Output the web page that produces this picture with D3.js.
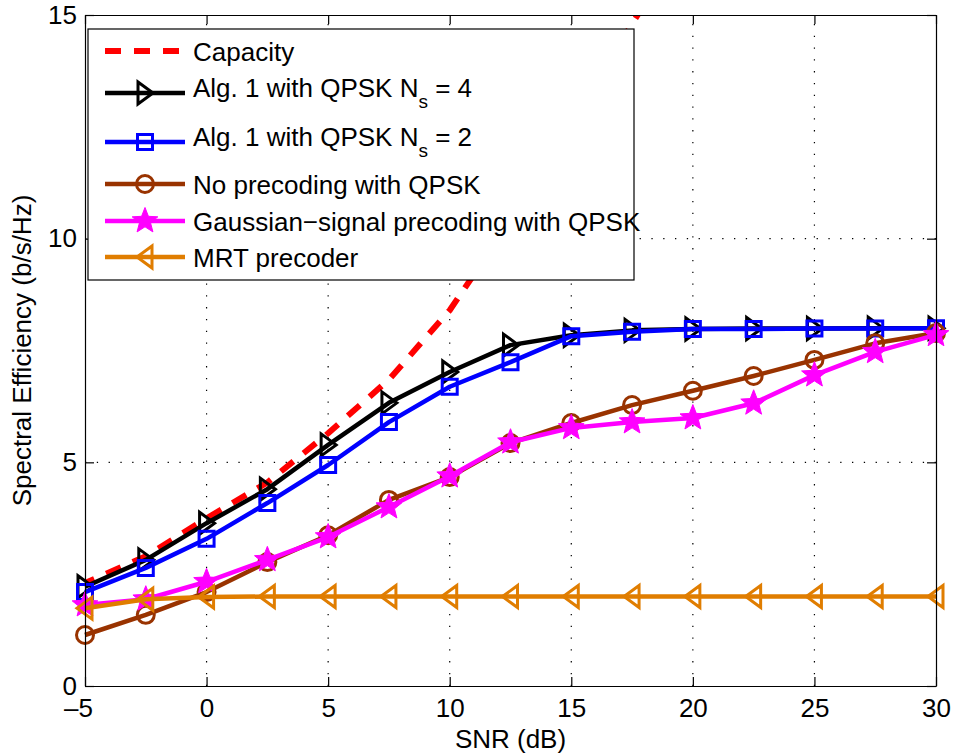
<!DOCTYPE html>
<html lang="en">
<head>
    <meta charset="UTF-8">
    <title>Spectral Efficiency vs SNR</title>
    <script src="https://d3js.org/d3.v7.min.js"></script>
    <style>
        body { margin: 0; background: #fff; }
        svg { display: block; }
        text { font-family: "Liberation Sans", Arial, Helvetica, sans-serif; fill: #000; }
        .axis path, .axis line { stroke: #000; stroke-width: 1.2; }
        .axis text { font-size: 26px; }
        .grid line { stroke: #000; stroke-width: 1.2; stroke-dasharray: 1.3 10.5; }
        .axis-label { font-size: 26px; }
        .legend text { font-size: 26px; }
    </style>
</head>
<body>
    <svg width="953" height="755"></svg>
    <script>
        // data
        const snr = [-5, -2.5, 0, 2.5, 5, 7.5, 10, 12.5, 15, 17.5, 20, 22.5, 25, 27.5, 30];
        const capacity = [2.3, 2.9, 3.75, 4.55, 5.65, 6.85, 8.4, 10.4, 12.6, 14.8, 17.0];
        const alg1Ns4 = [2.22, 2.82, 3.64, 4.40, 5.39, 6.33, 7.02, 7.62, 7.84, 7.95, 7.98, 7.99, 7.99, 8.0, 8.0];
        const alg1Ns2 = [2.10, 2.64, 3.29, 4.09, 4.94, 5.90, 6.69, 7.24, 7.82, 7.92, 7.98, 7.98, 7.99, 7.99, 8.0];
        const noPrecoding = [1.14, 1.59, 2.10, 2.77, 3.37, 4.16, 4.67, 5.43, 5.88, 6.28, 6.60, 6.93, 7.29, 7.66, 7.89];
        const gaussian = [1.81, 1.94, 2.33, 2.82, 3.33, 4.00, 4.69, 5.45, 5.77, 5.90, 5.99, 6.32, 6.95, 7.47, 7.85];
        const mrt = [1.74, 1.94, 1.99, 2.0, 2.0, 2.0, 2.0, 2.0, 2.0, 2.0, 2.0, 2.0, 2.0, 2.0, 2.0];
        const xTicks = [-5, 0, 5, 10, 15, 20, 25, 30];
        const yTicks = [0, 5, 10, 15];

        const series = [
            { name: "Capacity", values: capacity, color: "#ff0000", marker: null, dash: [16, 13], width: 6 },
            { name: "Alg. 1 with QPSK N", sub: "s", tail: " = 4", values: alg1Ns4, color: "#000000", marker: "right" },
            { name: "Alg. 1 with QPSK N", sub: "s", tail: " = 2", values: alg1Ns2, color: "#0000ff", marker: "square" },
            { name: "No precoding with QPSK", values: noPrecoding, color: "#993300", marker: "circle" },
            { name: "Gaussian\u2212signal precoding with QPSK", values: gaussian, color: "#ff00ff", marker: "star" },
            { name: "MRT precoder", values: mrt, color: "#e07d00", marker: "left" }
        ];

        const margin = { top: 15, right: 17, bottom: 69, left: 85 };
        const width = 953 - margin.left - margin.right;
        const height = 755 - margin.top - margin.bottom;
        const legendTop = 14;

        const svg = d3.select("svg")
            .append("g")
            .attr("transform", `translate(${margin.left},${margin.top})`);

        const x = d3.scaleLinear().domain([-5, 30]).range([0, width]);
        const y = d3.scaleLinear().domain([0, 15]).range([height, 0]);

        svg.append("clipPath").attr("id", "clip")
            .append("rect").attr("width", width).attr("height", height);

        // grid
        const grid = svg.append("g").attr("class", "grid");
        grid.selectAll(".vx").data(xTicks.slice(1, -1)).enter().append("line")
            .attr("x1", d => x(d)).attr("x2", d => x(d))
            .attr("y1", height).attr("y2", 0);
        grid.selectAll(".hy").data(yTicks.slice(1, -1)).enter().append("line")
            .attr("y1", d => y(d)).attr("y2", d => y(d))
            .attr("x1", 0).attr("x2", width);

        // markers
        function markerPath(type) {
            if (type === "right") return "M8,0 L-7,-11 L-7,11 Z";
            if (type === "left") return "M-8,0 L7,-11 L7,11 Z";
            if (type === "square") return "M-7.5,-7.5 H7.5 V7.5 H-7.5 Z";
            if (type === "circle") return d3.symbol(d3.symbolCircle, Math.PI * 8.5 * 8.5)();
            if (type === "star") {
                const pts = [];
                for (let i = 0; i < 10; i++) {
                    const r = i % 2 === 0 ? 13.5 : 5.8;
                    const a = -Math.PI / 2 + i * Math.PI / 5;
                    pts.push([r * Math.cos(a), r * Math.sin(a)]);
                }
                return "M" + pts.map(p => p.join(",")).join("L") + "Z";
            }
            return null;
        }

        function drawMarker(g, type, color) {
            g.append("path")
                .attr("d", markerPath(type))
                .attr("fill", type === "star" ? color : "none")
                .attr("stroke", color)
                .attr("stroke-width", type === "star" ? 1 : 3)
                .attr("stroke-linejoin", "miter");
        }

        const line = d3.line().x(d => x(d[0])).y(d => y(d[1]));

        // lines then markers, in legend order
        series.forEach(s => {
            const pts = s.values.map((v, i) => [snr[i], v]);
            const path = svg.append("path")
                .datum(pts)
                .attr("clip-path", s.marker ? null : "url(#clip)")
                .attr("fill", "none")
                .attr("stroke", s.color)
                .attr("stroke-width", s.width || 4.5)
                .attr("stroke-dasharray", s.dash ? s.dash.join(" ") : null)
                .attr("stroke-linejoin", "round")
                .attr("d", line);
            if (s.dash) {
                // phase the dashes so one ends just where the curve goes under the legend top
                const node = path.node();
                let lo = 0, hi = node.getTotalLength();
                for (let k = 0; k < 40; k++) {
                    const mid = (lo + hi) / 2;
                    if (node.getPointAtLength(mid).y > legendTop + 0.5) lo = mid; else hi = mid;
                }
                const period = s.dash[0] + s.dash[1];
                const off = (((s.dash[0] - lo) % period) + period) % period;
                path.attr("stroke-dashoffset", off);
            }
            if (s.marker) {
                pts.forEach(p => {
                    const g = svg.append("g").attr("transform", `translate(${x(p[0])},${y(p[1])})`);
                    drawMarker(g, s.marker, s.color);
                });
            }
        });

        // axes with inward ticks on all four sides
        svg.append("g").attr("class", "axis")
            .attr("transform", `translate(0,${height})`)
            .call(d3.axisBottom(x).tickValues(xTicks).tickSizeInner(-9).tickSizeOuter(0).tickPadding(13)
                .tickFormat(d => d < 0 ? "\u2013" + Math.abs(d) : d))
            .selectAll("text").filter(d => d < 0).attr("dx", -7);
        svg.append("g").attr("class", "axis")
            .call(d3.axisTop(x).tickValues(xTicks).tickSizeInner(-9).tickSizeOuter(0).tickFormat(""));
        svg.append("g").attr("class", "axis")
            .call(d3.axisLeft(y).tickValues(yTicks).tickSizeInner(-9).tickSizeOuter(0).tickPadding(8));
        svg.append("g").attr("class", "axis")
            .attr("transform", `translate(${width},0)`)
            .call(d3.axisRight(y).tickValues(yTicks).tickSizeInner(-9).tickSizeOuter(0).tickFormat(""));

        // axis labels
        svg.append("text")
            .attr("class", "axis-label")
            .attr("x", width / 2)
            .attr("y", height + 62)
            .attr("text-anchor", "middle")
            .text("SNR (dB)");
        svg.append("text")
            .attr("class", "axis-label")
            .attr("transform", `translate(${31 - margin.left},${height / 2}) rotate(-90)`)
            .attr("text-anchor", "middle")
            .text("Spectral Efficiency (b/s/Hz)");

        // legend
        const legend = svg.append("g").attr("class", "legend").attr("transform", `translate(3,${legendTop})`);
        legend.append("rect")
            .attr("width", 546).attr("height", 251)
            .attr("fill", "#fff").attr("stroke", "#000").attr("stroke-width", 1.2);
        const rowY = [22, 64, 113, 155, 192, 228];
        series.forEach((s, i) => {
            const row = legend.append("g").attr("transform", `translate(0,${rowY[i]})`);
            row.append("line")
                .attr("x1", 17).attr("x2", 97)
                .attr("stroke", s.color)
                .attr("stroke-width", s.width || 4.5)
                .attr("stroke-dasharray", s.dash ? s.dash.join(" ") : null);
            if (s.marker) {
                drawMarker(row.append("g").attr("transform", "translate(57,0)"), s.marker, s.color);
            }
            const t = row.append("text").attr("x", 105).attr("y", s.sub ? 4 : 10);
            t.append("tspan").text(s.name);
            if (s.sub) {
                t.append("tspan").attr("dy", 11).style("font-size", "19px").text(s.sub);
                t.append("tspan").attr("dy", -11).text(s.tail);
            }
        });
    </script>
</body>
</html>
